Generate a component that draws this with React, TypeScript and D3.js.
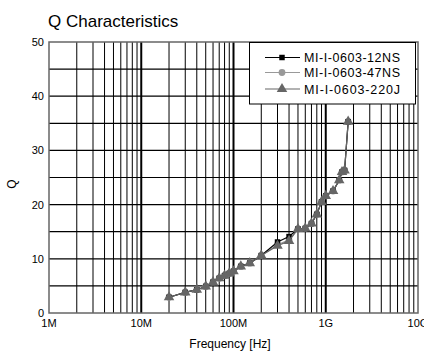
import { useEffect, useRef } from "react";
import * as d3 from "d3";

// Frequency points in Hz
const freqs = [20e6, 30e6, 40e6, 50e6, 60e6, 70e6, 80e6, 90e6, 100e6, 120e6, 150e6, 200e6, 300e6, 400e6, 500e6, 600e6, 700e6, 800e6, 900e6, 1000e6, 1200e6, 1400e6, 1500e6, 1600e6, 1750e6];

// Q values per part
const q12NS = [2.9, 3.8, 4.3, 4.9, 5.7, 6.4, 6.9, 7.3, 7.7, 8.6, 9.2, 10.6, 13.1, 14.1, 15.5, 15.6, 16.5, 18.2, 20.5, 21.6, 22.5, 24.5, 26.0, 26.3, 35.3];
const q47NS = [2.9, 3.8, 4.3, 4.9, 5.7, 6.4, 6.9, 7.3, 7.7, 8.6, 9.2, 10.6, 12.6, 13.5, 15.5, 15.6, 16.5, 18.2, 20.5, 21.6, 22.5, 24.5, 26.0, 26.3, 35.3];
const q220J = [2.9, 3.8, 4.3, 4.9, 5.7, 6.4, 6.9, 7.3, 7.7, 8.6, 9.2, 10.6, 12.4, 13.3, 15.5, 15.6, 16.5, 18.2, 20.5, 21.6, 22.5, 24.5, 26.0, 26.3, 35.3];

const seriesNames = ["MI-I-0603-12NS", "MI-I-0603-47NS", "MI-I-0603-220J"];
const xTickValues = [1e6, 1e7, 1e8, 1e9, 1e10];
const xTickLabels = ["1M", "10M", "100M", "1G", "10G"];
const yTickValues = [0, 10, 20, 30, 40, 50];

export default function App() {
    const ref = useRef<SVGSVGElement>(null);

    useEffect(() => {
        const svg = d3.select(ref.current);
        svg.selectAll("*").remove();

        const left = 49, right = 418, top = 42, bottom = 313;
        const font = "'Liberation Sans', Arial, sans-serif";

        const x = d3.scaleLog().domain([1e6, 1e10]).range([left, right]);
        const y = d3.scaleLinear().domain([0, 50]).range([bottom, top]);

        // Title
        svg.append("text")
            .attr("x", 48).attr("y", 26.5)
            .attr("font-family", font).attr("font-size", 17)
            .text("Q Characteristics");

        const grid = svg.append("g");

        // Vertical grid (minor 2..9 and decades)
        const minor: number[] = [];
        for (let e = 6; e < 10; e++) for (let m = 2; m <= 9; m++) minor.push(m * Math.pow(10, e));
        grid.selectAll("line.vmin").data(minor).enter().append("line")
            .attr("x1", d => x(d)).attr("x2", d => x(d))
            .attr("y1", top).attr("y2", bottom)
            .attr("stroke", "#000").attr("stroke-width", 1);
        grid.selectAll("line.vmaj").data(xTickValues.slice(1, -1)).enter().append("line")
            .attr("x1", d => x(d)).attr("x2", d => x(d))
            .attr("y1", top).attr("y2", bottom)
            .attr("stroke", "#000").attr("stroke-width", 2);

        // Horizontal grid every 5
        grid.selectAll("line.h").data(d3.range(5, 50, 5)).enter().append("line")
            .attr("x1", left).attr("x2", right)
            .attr("y1", d => y(d)).attr("y2", d => y(d))
            .attr("stroke", "#000").attr("stroke-width", 1.2);

        // Plot frame
        svg.append("rect")
            .attr("x", left).attr("y", top)
            .attr("width", right - left).attr("height", bottom - top)
            .attr("fill", "none").attr("stroke", "#666").attr("stroke-width", 1.5);

        // Y ticks
        svg.append("g").selectAll("text").data(yTickValues).enter().append("text")
            .attr("x", 44).attr("y", d => y(d) + 4)
            .attr("text-anchor", "end")
            .attr("font-family", font).attr("font-size", 11)
            .text(d => d);

        // X ticks
        svg.append("g").selectAll("text").data(xTickValues).enter().append("text")
            .attr("x", d => x(d)).attr("y", 327)
            .attr("text-anchor", "middle")
            .attr("font-family", font).attr("font-size", 11)
            .text((d, i) => xTickLabels[i]);

        // Axis titles
        svg.append("text")
            .attr("x", 230).attr("y", 348)
            .attr("text-anchor", "middle")
            .attr("font-family", font).attr("font-size", 12)
            .text("Frequency [Hz]");
        svg.append("text")
            .attr("transform", "translate(16,184) rotate(-90)")
            .attr("text-anchor", "middle")
            .attr("font-family", font).attr("font-size", 12)
            .text("Q");

        const line = d3.line<[number, number]>()
            .x(d => x(d[0]))
            .y(d => y(d[1]));

        const series = [
            { values: q47NS, color: "#999", marker: "circle" },
            { values: q12NS, color: "#000", marker: "square" },
            { values: q220J, color: "#666", marker: "triangle" },
        ];
        const symbolOf = (m: string) =>
            m === "square" ? d3.symbol().type(d3.symbolSquare).size(30)
                : m === "circle" ? d3.symbol().type(d3.symbolCircle).size(36)
                    : d3.symbol().type(d3.symbolTriangle).size(48);

        series.forEach(s => {
            const pts: [number, number][] = freqs.map((f, i) => [f, s.values[i]]);
            const g = svg.append("g");
            g.append("path")
                .datum(pts)
                .attr("fill", "none")
                .attr("stroke", s.color)
                .attr("stroke-width", 1.2)
                .attr("d", line);
            g.selectAll("path.m").data(pts).enter().append("path")
                .attr("transform", d => `translate(${x(d[0])},${y(d[1])})`)
                .attr("d", symbolOf(s.marker)())
                .attr("fill", s.color);
        });

        // Legend
        const lg = svg.append("g");
        lg.append("rect")
            .attr("x", 249.5).attr("y", 42.5)
            .attr("width", 166).attr("height", 61.5)
            .attr("fill", "#fff").attr("stroke", "#000").attr("stroke-width", 1);
        const legendItems = [
            { name: seriesNames[0], color: "#000", marker: "square" },
            { name: seriesNames[1], color: "#999", marker: "circle" },
            { name: seriesNames[2], color: "#666", marker: "triangle" },
        ];
        const rowY = [57.5, 72.5, 89];
        legendItems.forEach((it, i) => {
            lg.append("line")
                .attr("x1", 265).attr("x2", 300)
                .attr("y1", rowY[i]).attr("y2", rowY[i])
                .attr("stroke", it.color).attr("stroke-width", 1.2);
            lg.append("path")
                .attr("transform", `translate(282,${rowY[i]})`)
                .attr("d", symbolOf(it.marker)())
                .attr("fill", it.color);
            lg.append("text")
                .attr("x", 304).attr("y", rowY[i] + 4.5)
                .attr("font-family", font).attr("font-size", 12.5)
                .attr("textLength", 96)
                .text(it.name);
        });
    }, []);

    return (
        <svg ref={ref} width={424} height={356}
            style={{ position: "absolute", left: 0, top: 0, background: "#fff" }} />
    );
}
